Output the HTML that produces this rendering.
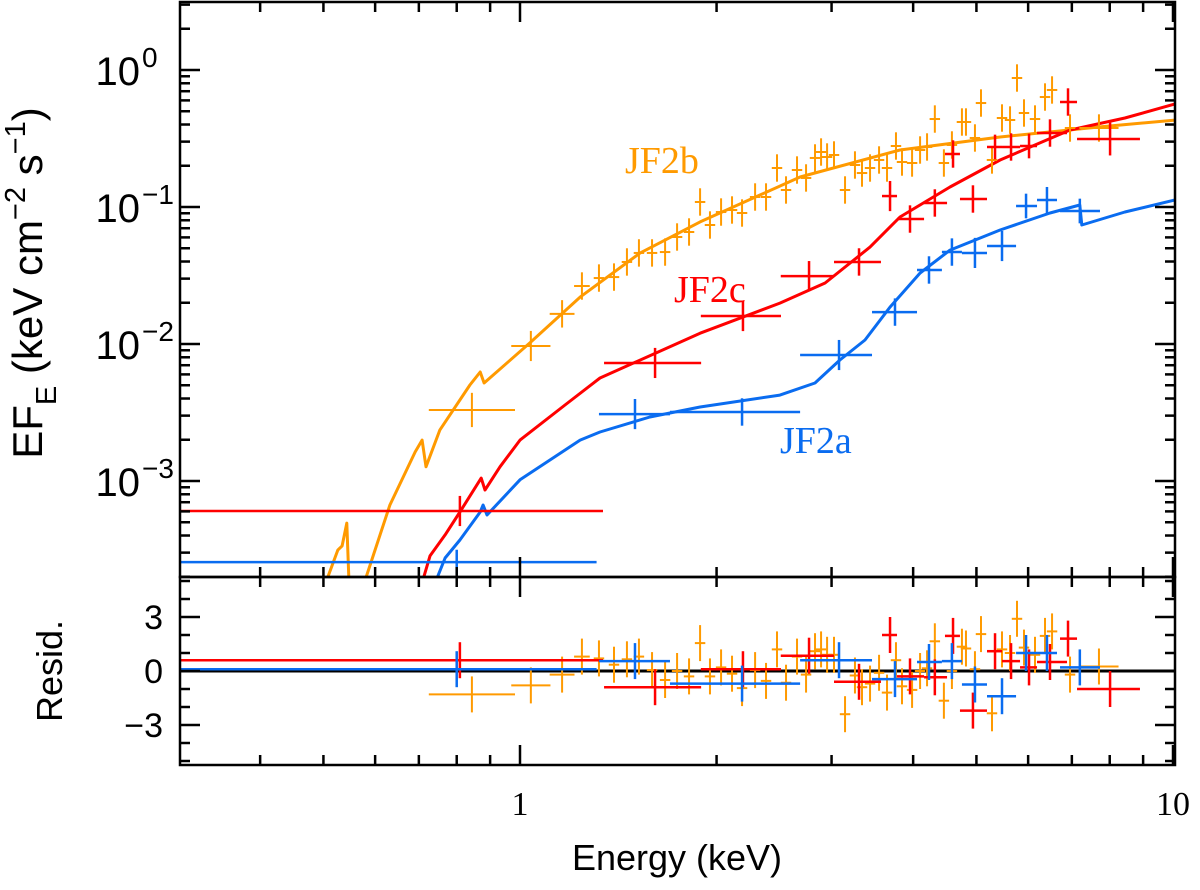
<!DOCTYPE html>
<html><head><meta charset="utf-8"><style>
html,body{margin:0;padding:0;background:#fff;}
svg{display:block;}
text{font-family:"Liberation Sans","DejaVu Sans",sans-serif;}
</style></head><body>
<svg id="chart" width="1200" height="890" viewBox="0 0 1200 890" xmlns="http://www.w3.org/2000/svg">
<defs>
<clipPath id="clipTop"><rect x="180" y="2" width="995" height="575"/></clipPath>
<clipPath id="clipRes"><rect x="180" y="577" width="995" height="188"/></clipPath>
</defs>
<g id="marksTop" clip-path="url(#clipTop)"></g>
<g id="marksRes" clip-path="url(#clipRes)"></g>
<g id="axes"></g>
<text transform="translate(42,283) rotate(-90)" text-anchor="middle" style="font-size:42px">EF<tspan style="font-size:29px" dy="14">E</tspan><tspan dy="-14"> (keV cm</tspan><tspan style="font-size:29px" dy="-17">−2</tspan><tspan dy="17"> s</tspan><tspan style="font-size:29px" dy="-17">−1</tspan><tspan dy="17">)</tspan></text>
<text transform="translate(62,671) rotate(-90)" text-anchor="middle" style="font-size:36px">Resid.</text>
<text x="677" y="870" text-anchor="middle" style="font-size:36px">Energy (keV)</text>
<text x="625" y="173" style="font-family:'Liberation Serif',serif;font-size:38px" fill="#ff9a00">JF2b</text>
<text x="674" y="302" style="font-family:'Liberation Serif',serif;font-size:38px" fill="#ff0000">JF2c</text>
<text x="780" y="453" style="font-family:'Liberation Serif',serif;font-size:38px" fill="#0a6cf0">JF2a</text>
</svg>
<script>
const orangeE = [0.844,1.039,1.160,1.244,1.321,1.393,1.458,1.521,1.593,1.668,1.740,1.815,1.887,1.954,2.032,2.112,2.188,2.291,2.381,2.475,2.555,2.656,2.742,2.830,2.891,2.953,3.026,3.146,3.258,3.340,3.436,3.547,3.648,3.765,3.846,3.985,4.099,4.201,4.318,4.458,4.586,4.751,4.819,4.974,5.081,5.282,5.472,5.629,5.769,5.913,6.147,6.368,6.528,6.955,7.702];
const orangeF = [3.30e-3,9.67e-3,1.66e-2,2.65e-2,3.03e-2,3.08e-2,3.97e-2,4.62e-2,4.62e-2,4.69e-2,6.04e-2,6.57e-2,0.1088,7.39e-2,9.19e-2,9.51e-2,9.04e-2,0.1183,0.1183,0.1926,0.1331,0.1862,0.1629,0.228,0.252,0.2317,0.2397,0.1331,0.2026,0.177,0.1926,0.2204,0.1926,0.2788,0.2130,0.2095,0.2607,0.2742,0.4387,0.2095,0.2836,0.4172,0.4172,0.319,0.574,0.2204,0.4463,0.4315,0.874,0.4855,0.4387,0.635,0.7148,0.3772,0.3772];
const orangeErrDex = [0.125,0.11,0.1,0.1,0.1,0.1,0.1,0.1,0.1,0.1,0.1,0.1,0.1,0.1,0.1,0.1,0.1,0.1,0.1,0.1,0.1,0.1,0.1,0.1,0.1,0.1,0.1,0.1,0.1,0.1,0.1,0.1,0.1,0.1,0.1,0.1,0.1,0.1,0.1,0.1,0.1,0.1,0.1,0.1,0.1,0.1,0.1,0.1,0.1,0.1,0.1,0.1,0.1,0.1,0.1];
const orangeBinDex = [0.066,0.030,0.019,0.012,0.008,0.008,0.008,0.008,0.008,0.008,0.008,0.008,0.008,0.008,0.008,0.008,0.008,0.008,0.008,0.008,0.008,0.008,0.008,0.008,0.008,0.008,0.008,0.008,0.008,0.008,0.008,0.008,0.008,0.008,0.008,0.008,0.008,0.008,0.008,0.008,0.008,0.008,0.008,0.008,0.008,0.008,0.008,0.008,0.008,0.008,0.008,0.008,0.008,0.008,0.03];
const orangeResid = [-1.3,-0.8,-0.2,0.8,0.7,0.35,0.65,0.8,0.05,-0.5,0,-0.3,1.55,-0.3,0.2,-0.15,-0.95,0.05,-0.55,1.2,-0.65,0.8,-0.2,1.1,1.2,0.9,0.9,-2.4,-0.25,-0.9,-0.7,-0.1,-1.2,0.6,-0.85,-1.05,0,0.15,1.65,-1.65,0,1.35,1.25,0.1,2.05,-2.35,1.2,1.0,2.9,1.3,0.9,1.95,2.2,-0.2,0.25];

const redE = [0.809,1.610,2.195,2.771,3.305,3.687,3.956,4.318,4.939,4.604,5.339,5.649,6.019,6.481,6.906,8.01];
const redLo = [0.30,1.345,1.892,2.508,3.026,3.584,3.779,4.157,4.718,4.475,5.190,5.472,5.831,6.191,6.714,7.129];
const redHi = [1.34,1.894,2.510,3.026,3.571,3.779,4.157,4.508,5.190,4.718,5.472,5.831,6.191,6.882,7.129,8.90];
const redF = [6.04e-4,7.27e-3,1.60e-2,3.13e-2,3.97e-2,0.1202,8.17e-2,0.107,0.1144,0.2437,0.2742,0.2742,0.2788,0.3467,0.584,0.3135];
const redErrDex = [0.11,0.11,0.11,0.11,0.1,0.11,0.1,0.1,0.1,0.1,0.09,0.1,0.09,0.1,0.1,0.12];
const redResid = [0.6,-0.9,0.1,0.85,-0.6,2.0,-0.3,-0.35,-2.2,1.95,1.1,0.55,0.2,0.5,1.8,-1.0];

const blueE = [0.80,1.500,2.188,3.080,3.752,4.230,4.586,4.974,5.472,5.956,6.412,7.20];
const blueLo = [0.30,1.321,1.697,2.685,3.460,4.055,4.427,4.751,5.190,5.750,6.191,6.714];
const blueHi = [1.31,1.697,2.685,3.460,4.055,4.427,4.751,5.190,5.750,6.191,6.643,7.73];
const blueF = [2.56e-4,3.08e-3,3.19e-3,8.31e-3,1.71e-2,3.47e-2,4.69e-2,4.62e-2,5.19e-2,0.1017,0.1125,9.35e-2];
const blueErrDex = [0.09,0.11,0.1,0.11,0.1,0.1,0.1,0.11,0.11,0.09,0.095,0.09];
const blueResid = [0.1,0.55,-0.7,0.6,-0.45,0.5,0.55,-0.75,-1.4,1.0,1.0,0.2];

const orangeModelE = [0.57,0.632,0.691,0.708,0.718,0.754,0.838,0.869,0.881,1.036,1.236,1.527,1.887,2.685,3.819,5.435,7.73,10.07];
const orangeModelF = [1.5e-4,6.68e-4,1.63e-3,1.99e-3,1.27e-3,2.36e-3,5.02e-3,6.25e-3,5.19e-3,1.02e-2,2.20e-2,4.61e-2,7.78e-2,0.1656,0.2607,0.3243,0.384,0.431];
const orangeSpikeE = [0.506,0.526,0.534,0.543,0.547];
const orangeSpikeF = [1.9e-4,3.13e-4,3.36e-4,4.93e-4,1.9e-4];
const redModelE = [0.70,0.728,0.768,0.809,0.872,0.884,0.932,1.0,1.172,1.326,1.887,2.50,2.932,3.436,3.819,4.555,5.435,6.955,8.44,10.07];
const redModelF = [1.5e-4,2.84e-4,4.04e-4,5.94e-4,1.05e-3,8.6e-4,1.27e-3,1.99e-3,3.59e-3,5.65e-3,1.20e-2,1.99e-2,2.79e-2,5.10e-2,8.45e-2,0.140,0.2204,0.365,0.446,0.565];
const blueModelE = [0.73,0.768,0.809,0.869,0.878,0.890,1.0,1.236,1.326,1.581,1.887,2.50,2.830,3.09,3.376,3.687,4.10,4.555,5.435,6.48,7.20,7.25,8.44,10.07];
const blueModelF = [1.5e-4,2.74e-4,3.71e-4,5.94e-4,6.68e-4,5.65e-4,1.02e-3,1.99e-3,2.28e-3,2.93e-3,3.47e-3,4.24e-3,5.19e-3,7.64e-3,1.07e-2,1.86e-2,3.30e-2,4.85e-2,6.79e-2,9.04e-2,0.1035,7.39e-2,9.2e-2,0.1125];

const xTickMajor = [1,10];
const xTickLabels = ["1","10"];
const xTickMinor = [0.4,0.5,0.6,0.7,0.8,0.9,2,3,4,5,6,7,8,9];
const yTickExp = [0,-1,-2,-3];
const yTickLabels = ["0","−1","−2","−3"];
const rTickMajor = [3,0,-3];
const rTickLabels = ["3","0","−3"];
const rTickMinor = [5,4,2,1,-1,-2,-4,-5];

const NS = "http://www.w3.org/2000/svg";
const X0=180, X1=1175, YT=2, YM=577, YB=765;
const xOf = E => 520 + 653*Math.log10(E);
const yOf = F => 70 - 137*Math.log10(F);
const yR = r => 671 - 18*r;
const topG = document.getElementById('marksTop');
const resG = document.getElementById('marksRes');
const axesG = document.getElementById('axes');
function mk(tag, attrs, parent){ const e=document.createElementNS(NS,tag); for(const k in attrs) e.setAttribute(k,attrs[k]); parent.appendChild(e); return e; }

function model(E,F,color,name){
  const p = mk('polyline',{points:E.map((e,i)=>xOf(e).toFixed(1)+','+yOf(F[i]).toFixed(1)).join(' '),fill:'none',stroke:color,'stroke-width':3,'stroke-linejoin':'round'},topG);
  
  
}
model(orangeSpikeE,orangeSpikeF,'#ff9a00','model-jf2b-low');
model(orangeModelE,orangeModelF,'#ff9a00','model-jf2b');
model(redModelE,redModelF,'#ff0000','model-jf2c');
model(blueModelE,blueModelF,'#0a6cf0','model-jf2a');

function cross(g,xa,xb,xc,y,ya,yb,color,w,name){
  const grp = mk('g',{stroke:color,'stroke-width':w},g);
  
  
  mk('line',{x1:xa,x2:xb,y1:y,y2:y},grp);
  mk('line',{x1:xc,x2:xc,y1:ya,y2:yb},grp);
}
const zl = mk('line',{x1:X0,x2:X1,y1:yR(0),y2:yR(0),stroke:'#000','stroke-width':3},resG);



orangeE.forEach((e,i)=>{
  const xa=xOf(e)-653*orangeBinDex[i], xb=xOf(e)+653*orangeBinDex[i];
  const y=yOf(orangeF[i]), d=137*orangeErrDex[i];
  cross(topG,xa,xb,xOf(e),y,y-d,y+d,'#ff9a00',2,'point-jf2b');
  const r=yR(orangeResid[i]);
  cross(resG,xa,xb,xOf(e),r,r-18,r+18,'#ff9a00',2,'resid-jf2b');
});
function series(E,Lo,Hi,F,Err,Res,color,nm){
  E.forEach((e,i)=>{
    const y=yOf(F[i]), d=137*Err[i];
    cross(topG,xOf(Lo[i]),xOf(Hi[i]),xOf(e),y,y-d,y+d,color,2.5,'point-'+nm);
    const r=yR(Res[i]);
    cross(resG,xOf(Lo[i]),xOf(Hi[i]),xOf(e),r,r-18,r+18,color,2.5,'resid-'+nm);
  });
}
series(redE,redLo,redHi,redF,redErrDex,redResid,'#ff0000','jf2c');
series(blueE,blueLo,blueHi,blueF,blueErrDex,blueResid,'#0a6cf0','jf2a');

const f1 = mk('rect',{x:X0,y:YT,width:X1-X0,height:YM-YT,fill:'none',stroke:'#000','stroke-width':2.5},axesG);


const f2 = mk('rect',{x:X0,y:YM,width:X1-X0,height:YB-YM,fill:'none',stroke:'#000','stroke-width':2.5},axesG);



function tk(x1,y1,x2,y2){
  const l=mk('line',{x1:x1,y1:y1,x2:x2,y2:y2,stroke:'#000','stroke-width':2.5},axesG);
  
  
}
[[YT,1],[YM,-1],[YM,1],[YB,-1]].forEach(([y,s])=>{
  xTickMajor.forEach(e=>{ const x=xOf(e); if(x<=X1+1) tk(x,y,x,y+s*20); });
  xTickMinor.forEach(e=>{ const x=xOf(e); tk(x,y,x,y+s*10); });
});
xTickMajor.forEach((e,i)=>{
  const t=mk('text',{x:xOf(e),y:815,'text-anchor':'middle',style:"font-family:'Liberation Serif',serif;font-size:34px"},axesG);
  t.textContent=xTickLabels[i];
  
  
});
for(let p=-4;p<=0;p++){
  for(let m=1;m<=9;m++){
    const y=yOf(m*Math.pow(10,p));
    if(y<YT||y>YM) continue;
    const L = m===1?20:10;
    tk(X0,y,X0+L,y); tk(X1,y,X1-L,y);
  }
}
yTickExp.forEach((p,i)=>{
  const y=yOf(Math.pow(10,p));
  const t=mk('text',{x:140,y:y+15,'text-anchor':'end',style:'font-size:40px'},axesG);
  t.textContent='10';
  
  
  const s=mk('text',{x:142,y:y-3,'text-anchor':'start',style:'font-size:28px'},axesG);
  s.textContent=yTickLabels[i];
  
  
});
rTickMajor.forEach((r,i)=>{
  const y=yR(r); tk(X0,y,X0+20,y); tk(X1,y,X1-20,y);
  const t=mk('text',{x:163,y:y+12,'text-anchor':'end',style:'font-size:34px'},axesG);
  t.textContent=rTickLabels[i];
  
  
});
rTickMinor.forEach(r=>{ const y=yR(r); tk(X0,y,X0+10,y); tk(X1,y,X1-10,y); });
</script>
</body></html>
